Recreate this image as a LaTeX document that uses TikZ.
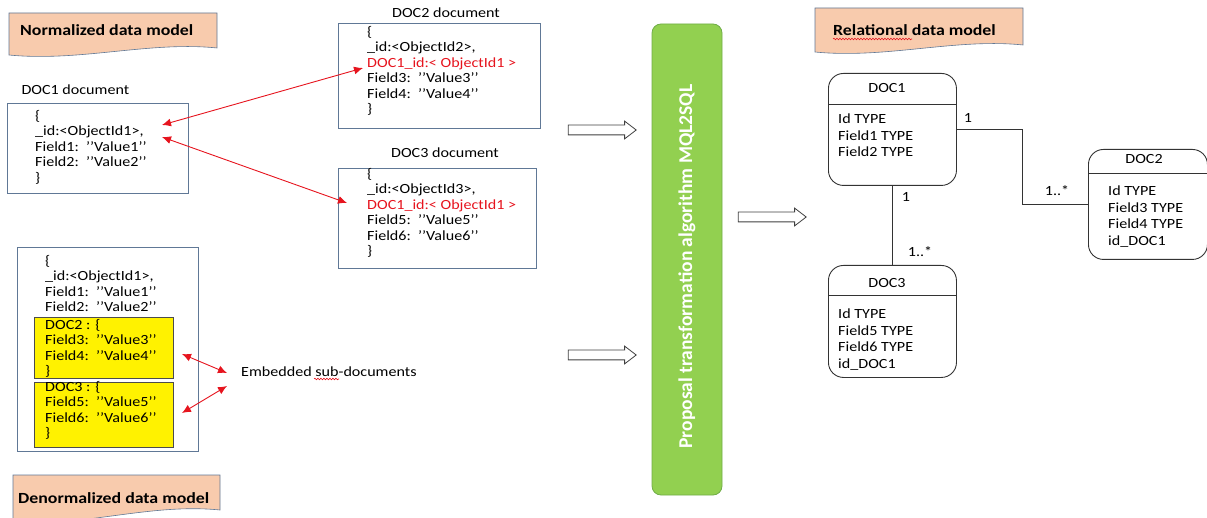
\documentclass[tikz,border=0pt]{standalone}
\usepackage{fontspec}
\setmainfont{Carlito}[FakeStretch=1.15]
\newfontfamily\barfont{Carlito}
\usepackage{xcolor}
\usetikzlibrary{arrows.meta}
\usetikzlibrary{shapes.arrows}
\usetikzlibrary{decorations.pathmorphing}
\definecolor{mypeach}{RGB}{248, 203, 173}
\definecolor{mygreen}{RGB}{146, 208, 80}
\definecolor{mydarkgreen}{RGB}{112, 173, 71}
\definecolor{myblue}{RGB}{96, 120, 150}
\definecolor{myred}{RGB}{230, 20, 30}

\tikzset{
docbox/.style={draw=myblue, line width=0.9pt, inner sep=0pt, anchor=north west},
yelbox/.style={draw=black!70, fill=yellow, line width=0.9pt, inner sep=0pt, anchor=north west},
doctxt/.style={font=\fontsize{14}{15.5}\selectfont, align=left, inner sep=0pt, anchor=north west},
tabbox/.style={draw=black!80, line width=0.9pt, rounded corners=15pt, inner sep=0pt, anchor=north west},
tabtxt/.style={font=\fontsize{14}{16.5}\selectfont, align=left, inner sep=0pt, anchor=north west},
bannertxt/.style={font=\fontsize{15.5}{18}\selectfont\bfseries, inner sep=0pt, anchor=west},
redarrow/.style={{Latex[length=9pt,width=8pt]}-{Latex[length=9pt,width=8pt]}, myred, line width=0.9pt},
blockarrow/.style={single arrow, draw=black!75, fill=white, line width=0.8pt, minimum height=68pt, text height=4.5pt, text depth=4.5pt, text width=0pt, inner sep=0pt, single arrow head extend=4pt, single arrow tip angle=75},
squiggle/.style={myred, line width=0.6pt, decorate, decoration={snake, amplitude=0.8pt, segment length=3pt}}
}

\begin{document}
\begin{tikzpicture}[x=1pt, y=-1pt, font=\fontsize{14}{16}\selectfont]
\useasboundingbox (0,0) rectangle (1207,518);

%banners
\filldraw[fill=mypeach, draw=myblue, line width=0.6pt] (9,13) -- (217,13) -- (217,48) .. controls (150,41) and (80,62) .. (9,55) -- cycle;
\node[bannertxt] (normtxt) at (20,30) {Normalized data model};
\filldraw[fill=mypeach, draw=myblue, line width=0.6pt] (815,8) -- (1023,8) -- (1023,45) .. controls (956,38) and (886,59) .. (815,52) -- cycle;
\node[bannertxt] (reltxt) at (833,30) {Relational data model};
\draw[squiggle] (833,39) -- (912,39);
\filldraw[fill=mypeach, draw=myblue, line width=0.6pt] (13,475) -- (220,475) -- (220,510) .. controls (150,503) and (85,527) .. (13,522) -- cycle;
\node[bannertxt] (denormtxt) at (18,498) {Denormalized data model};

%normalized documents
\node[anchor=west] (d1lab) at (18,90) {DOC1 document};
\node[docbox, minimum width=181pt, minimum height=90pt] (d1) at (7,103) {};
\node[doctxt] (d1txt) at (35,110) {\{\\\_id:<ObjectId1>,\\Field1:~~’’Value1’’\\Field2:~~’’Value2’’\\\}};

\node (d2lab) at (446,13) {DOC2 document};
\node[docbox, minimum width=202pt, minimum height=105pt] (d2) at (338,23) {};
\node[doctxt] (d2txt) at (367,26) {\{\\\_id:<ObjectId2>,\\\textcolor{myred}{DOC1\_id:< ObjectId1 >}\\Field3:~~’’Value3’’\\Field4:~~’’Value4’’\\\}};

\node (d3lab) at (445,153) {DOC3 document};
\node[docbox, minimum width=198pt, minimum height=100pt] (d3) at (338,168) {};
\node[doctxt] (d3txt) at (367,168) {\{\\\_id:<ObjectId3>,\\\textcolor{myred}{DOC1\_id:< ObjectId1 >}\\Field5:~~’’Value5’’\\Field6:~~’’Value6’’\\\}};

\coordinate (a1s) at (162,125);
\coordinate (a1e) at (363,68);
\coordinate (a2s) at (162,137);
\coordinate (a2e) at (347,203);
\draw[redarrow] (a1s) -- (a1e);
\draw[redarrow] (a2s) -- (a2e);

%denormalized document
\node[docbox, minimum width=181pt, minimum height=204pt] (dn) at (17,247) {};
\node[doctxt] (dntxt) at (45,255) {\{\\\_id:<ObjectId1>,\\Field1:~~’’Value1’’\\Field2:~~’’Value2’’};
\node[yelbox, minimum width=139pt, minimum height=61pt] (y1) at (34,317) {};
\node[doctxt] (y1txt) at (45,319) {DOC2 : \{\\Field3:~~’’Value3’’\\Field4:~~’’Value4’’\\\}};
\node[yelbox, minimum width=139pt, minimum height=65pt] (y2) at (34,382) {};
\node[doctxt] (y2txt) at (45,381) {DOC3 : \{\\Field5:~~’’Value5’’\\Field6:~~’’Value6’’\\\}};

\node[anchor=west, inner sep=0pt] (emb) at (241,372) {Embedded sub-documents};
\draw[squiggle] (314,379) -- (339,379);
\coordinate (a3s) at (182,354);
\coordinate (a3e) at (227,373);
\coordinate (a4s) at (182,413);
\coordinate (a4e) at (227,386);
\draw[redarrow] (a3s) -- (a3e);
\draw[redarrow] (a4s) -- (a4e);

%algorithm
\node[blockarrow] (ba1) at (599,130) {};
\node[blockarrow] (ba2) at (599,355) {};
\node[fill=mygreen, draw=mydarkgreen, line width=0.8pt, rounded corners=9pt, minimum width=70pt, minimum height=471pt] (alg) at (687,259.5) {};
\node[rotate=90, text=white, inner sep=0pt, font=\barfont\fontsize{19.5}{22}\selectfont\bfseries] (algtxt) at (687,266.5) {Proposal transformation algorithm MQL2SQL};
\node[blockarrow] (ba3) at (769,217) {};

%relational tables
\node[tabbox, minimum width=128pt, minimum height=112pt] (t1) at (828,73) {};
\draw[black!80, line width=0.9pt] (828,104) -- (956,104);
\node (t1name) at (887,88) {DOC1};
\node[tabtxt] (t1txt) at (838,114) {Id TYPE\\Field1 TYPE\\Field2 TYPE};

\node[tabbox, minimum width=119pt, minimum height=110pt] (t2) at (1088,149) {};
\draw[black!80, line width=0.9pt] (1088,173) -- (1207,173);
\node (t2name) at (1144,159) {DOC2};
\node[tabtxt] (t2txt) at (1108,186) {Id TYPE\\Field3 TYPE\\Field4 TYPE\\id\_DOC1};

\node[tabbox, minimum width=128pt, minimum height=112pt] (t3) at (828,265) {};
\draw[black!80, line width=0.9pt] (828,295) -- (956,295);
\node (t3name) at (887,283) {DOC3};
\node[tabtxt] (t3txt) at (838,309) {Id TYPE\\Field5 TYPE\\Field6 TYPE\\id\_DOC1};

\draw[black!80, line width=0.9pt] (t1.east) -- ++(66,0) |- (t2.west);
\draw[black!80, line width=0.9pt] (t1.south) -- (t3.north);
\node (m1) at (968,118) {1};
\node (m2) at (1057,191) {1..*};
\node (m3) at (906,197) {1};
\node (m4) at (920,252) {1..*};

\end{tikzpicture}
\end{document}
